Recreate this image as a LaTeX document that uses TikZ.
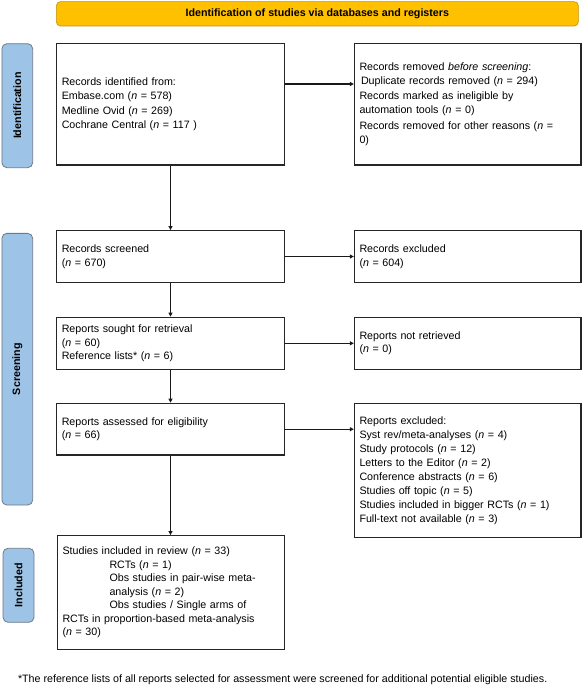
\documentclass[tikz,border=0pt]{standalone}
\usepackage{fontspec}
\setmainfont{Liberation Sans}
\usetikzlibrary{arrows.meta}
\definecolor{bannerfill}{HTML}{FFC000}
\definecolor{bannerline}{HTML}{C09000}
\definecolor{sidefill}{HTML}{9DC3E6}
\definecolor{sideline}{HTML}{6F7A85}
\begin{document}
\begin{tikzpicture}[x=1pt,y=-1pt,
  font=\fontsize{10.7}{13.8}\selectfont,
  box/.style={draw=black!85, line width=1.3pt, inner xsep=5pt, inner ysep=2pt, align=left},
  lbox/.style={box, text width=217.5pt},
  rbox/.style={box, text width=216.5pt},
  arr/.style={-{Triangle[length=4pt,width=4pt]}, line width=1.1pt, draw=black!90},
  lane/.style={draw=sideline, fill=sidefill, rounded corners=5pt, line width=0.8pt,
    rotate=90, font=\bfseries\fontsize{10.7}{12}\selectfont, inner sep=0pt}]
\useasboundingbox (0,0) rectangle (582,685);

% banner
\node[draw=bannerline, fill=bannerfill, rounded corners=4pt, line width=0.6pt,
  minimum width=521.9pt, minimum height=24.3pt, inner sep=0pt,
  font=\bfseries\fontsize{10.7}{12}\selectfont] (top) at (317.35,13.85)
  {Identification of studies via databases and registers};

% side lanes
\node[lane, minimum width=124pt, minimum height=30.8pt] (l1) at (17.3,105.7) {Identification};
\node[lane, minimum width=271.7pt, minimum height=30.8pt] (l2) at (17.3,369.2) {Screening};
\node[lane, minimum width=74pt, minimum height=31pt] (l3) at (18.5,585.3) {Included};

% boxes
\node[lbox, minimum height=121.7pt, font=\fontsize{10.7}{14.2}\selectfont] (b1) at (170.5,104.2)
 {Records identified from:\\Embase.com (\textit{n} = 578)\\Medline Ovid (\textit{n} = 269)\\Cochrane Central (\textit{n} = 117 )};

\node[rbox, minimum height=121.7pt, font=\fontsize{10.7}{13.6}\selectfont] (b2) at (467.75,104.2)
 {Records removed \textit{before screening}:\\\hspace*{1.5pt}Duplicate records removed (\textit{n} = 294)\\[1.5pt]Records marked as ineligible by\\automation tools (\textit{n} = 0)\\[3pt]Records removed for other reasons (\textit{n} =\\0)};

\node[lbox, minimum height=51.6pt] (b3) at (170.5,256.5)
 {Records screened\\(\textit{n} = 670)};
\node[rbox, minimum height=51.6pt] (b4) at (467.75,256.5)
 {Records excluded\\(\textit{n} = 604)};

\node[lbox, minimum height=52pt] (b5) at (170.5,343.3)
 {Reports sought for retrieval\\(\textit{n} = 60)\\Reference lists* (\textit{n} = 6)};
\node[rbox, minimum height=52pt] (b6) at (467.75,343.3)
 {Reports not retrieved\\(\textit{n} = 0)};

\node[lbox, minimum height=51.7pt] (b7) at (170.5,429.2)
 {Reports assessed for eligibility\\(\textit{n} = 66)};
\node[rbox, minimum height=134pt, font=\fontsize{10.7}{14}\selectfont] (b8) at (467.75,470.3)
 {Reports excluded:\\Syst rev/meta-analyses (\textit{n} = 4)\\Study protocols (\textit{n} = 12)\\Letters to the Editor (\textit{n} = 2)\\Conference abstracts (\textit{n} = 6)\\Studies off topic (\textit{n} = 5)\\Studies included in bigger RCTs (\textit{n} = 1)\\Full-text not available (\textit{n} = 3)};

\node[box, text width=216.8pt, minimum height=113.6pt, font=\fontsize{10.7}{13.5}\selectfont] (b9) at (170.9,592.5)
 {Studies included in review (\textit{n} = 33)\\\hspace*{47pt}RCTs (\textit{n} = 1)\\\hspace*{47pt}Obs studies in pair-wise meta-\\\hspace*{47pt}analysis (\textit{n} = 2)\\\hspace*{47pt}Obs studies / Single arms of\\RCTs in proportion-based meta-analysis\\(\textit{n} = 30)};

% footnote
\node[anchor=west, inner sep=0pt] (fn) at (17.8,679.3)
 {*The reference lists of all reports selected for assessment were screened for additional potential eligible studies.};

% connectors
\draw[arr] ([yshift=20.2pt]b1.east) -- ([yshift=20.2pt]b1.east -| b2.west);
\draw[arr] (b3.east) -- (b3.east -| b4.west);
\draw[arr] (b5.east) -- (b5.east -| b6.west);
\draw[arr] (b7.east) -- (b7.east -| b8.west);
\draw[arr] (b1.south) -- (b1.south |- b3.north);
\draw[arr] (b3.south) -- (b3.south |- b5.north);
\draw[arr] (b5.south) -- (b5.south |- b7.north);
\draw[arr] (b7.south) -- (b7.south |- b9.north);
\end{tikzpicture}
\end{document}
